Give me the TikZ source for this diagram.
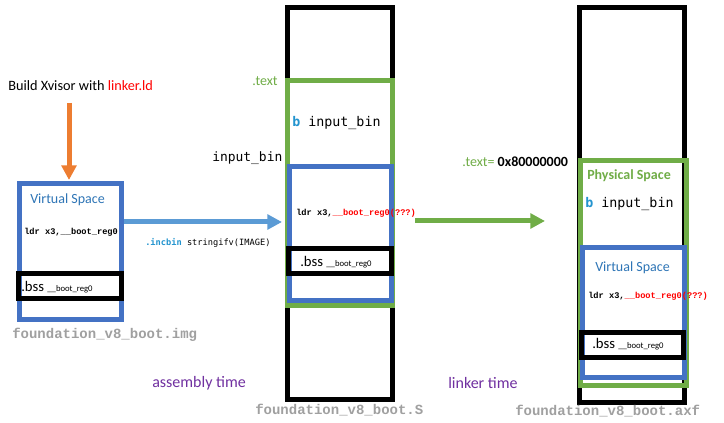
\documentclass[tikz,border=0pt]{standalone}
\usepackage{fontspec}
\setmainfont{Carlito}
\newfontfamily\courfont{Liberation Mono}
\newfontfamily\consfont{DejaVu Sans Mono}
\usetikzlibrary{arrows.meta}
\definecolor{boxblue}{HTML}{4472C4}
\definecolor{secgreen}{HTML}{70AD47}
\definecolor{buildorange}{HTML}{ED7D31}
\definecolor{arrowblue}{HTML}{5B9BD5}
\definecolor{spaceblue}{HTML}{2E75B6}
\definecolor{opblue}{HTML}{2394CF}
\definecolor{timepurple}{HTML}{7030A0}
\definecolor{filegray}{HTML}{A0A0A0}
\newcommand{\fs}[1]{\fontsize{#1}{#1}\selectfont}
\tikzset{
  blkbox/.style={draw=black, line width=3.75pt},
  grnbox/.style={draw=secgreen, line width=3.75pt},
  blubox/.style={draw=boxblue, line width=3.75pt},
  lbl/.style={anchor=west, inner sep=0pt},
  code/.style={lbl, font=\courfont\bfseries\fs{6.5}},
  fname/.style={lbl, font=\courfont\bfseries\fs{10.5}, text=filegray},
  bigarrow/.style={line width=3.75pt, -{Triangle[length=11pt,width=11pt]}},
}
\begin{document}
\begin{tikzpicture}[x=0.75pt,y=-0.75pt]
			%%%%% background %%%%%
			\fill[white] (0,0) rectangle (724,423);
			\useasboundingbox (0,0) rectangle (724,423);
			
			%%%%% img %%%%%
			\node[lbl, font=\fs{10.7}] (build) at (8,86) {Build Xvisor with \textcolor{red}{linker.ld}};
			\coordinate (buildend) at (69,103);
			\coordinate (imgtop) at (69,180);
			\draw[bigarrow, buildorange] (buildend) -- (imgtop);
			
			\draw[blubox] (19,184) rectangle (121,320);
			\draw[blkbox] (18,274) rectangle (121,299);
			\node[lbl, font=\fs{10.5}, text=spaceblue] (imgvirt) at (30,200) {Virtual Space};
			\node[code] (imgldr) at (24,232) {ldr x3,\_\_boot\_reg0};
			\node[lbl] (imgbss) at (21,287) {\fs{11}.bss \fs{6.5}\_\_boot\_reg0};
			\node[fname] (imgname) at (12,335) {foundation\_v8\_boot.img};
			
			\coordinate (incstart) at (124,222);
			\coordinate (incend) at (282,222);
			\draw[bigarrow, arrowblue] (incstart) -- (incend);
			\node[lbl, font=\consfont\fs{6.5}] (incbin) at (145,243) {\textcolor{opblue}{\bfseries .incbin} stringifv(IMAGE)};
			\node[lbl, font=\fs{12}, text=timepurple] (asmtime) at (152,383) {assembly time};
			
			%%%%% S %%%%%
			\draw[blkbox] (287,8) rectangle (392,400);
			\draw[grnbox, fill=white] (287,81) rectangle (392,306);
			\draw[blubox] (289,167) rectangle (391,301);
			\draw[blkbox] (288,249) rectangle (391,274);
			\node[lbl, font=\fs{10.5}, text=secgreen] (stext) at (252,81) {.text};
			\node[lbl, font=\consfont\fs{10}] (sbranch) at (292,123) {\textcolor{opblue}{\bfseries b} input\_bin};
			\node[lbl, font=\consfont\fs{9.7}] (sinput) at (212,158) {input\_bin};
			\node[code] (sldr) at (296,213) {ldr x3,\textcolor{red}{\_\_boot\_reg0(???)}};
			\node[lbl] (sbss) at (300,262) {\fs{11}.bss \fs{6.5}\_\_boot\_reg0};
			\node[fname] (sname) at (255,410) {foundation\_v8\_boot.S};
			
			\coordinate (linkstart) at (415,221);
			\coordinate (linkend) at (545,221);
			\draw[bigarrow, secgreen] (linkstart) -- (linkend);
			\node[lbl, font=\fs{12}, text=timepurple] (linktime) at (448,383) {linker time};
			
			%%%%% axf %%%%%
			\draw[blkbox] (579,8) rectangle (684,403);
			\draw[grnbox] (580,161) rectangle (686,386);
			\draw[blubox] (582,248) rectangle (684,378);
			\draw[blkbox] (581,333) rectangle (683,358);
			\node[lbl, font=\fs{10.5}] (atext) at (462,162) {\textcolor{secgreen}{.text=} \textbf{0x80000000}};
			\node[lbl, font=\bfseries\fs{10.5}, text=secgreen] (aphys) at (587,176) {Physical Space};
			\node[lbl, font=\consfont\fs{10}] (abranch) at (585,204) {\textcolor{opblue}{\bfseries b} input\_bin};
			\node[lbl, font=\fs{10.5}, text=spaceblue] (avirt) at (595,268) {Virtual Space};
			\node[code] (aldr) at (588,296) {ldr x3,\textcolor{red}{\_\_boot\_reg0(???)}};
			\node[lbl] (abss) at (592,344) {\fs{11}.bss \fs{6.5}\_\_boot\_reg0};
			\node[fname] (aname) at (515,411) {foundation\_v8\_boot.axf};
\end{tikzpicture}
\end{document}
